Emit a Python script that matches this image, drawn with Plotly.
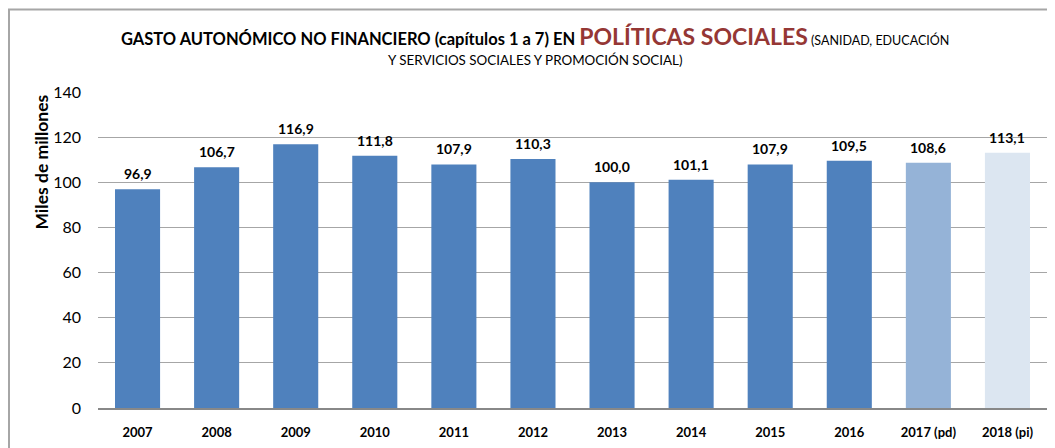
import plotly.graph_objects as go

categories = ["2007", "2008", "2009", "2010", "2011", "2012", "2013", "2014",
              "2015", "2016", "2017 (pd)", "2018 (pi)"]
values = [96.9, 106.7, 116.9, 111.8, 107.9, 110.3, 100.0, 101.1, 107.9, 109.5, 108.6, 113.1]
bar_colors = ["#4F81BD"] * 10 + ["#95B3D7", "#DCE6F1"]
y_ticks = [0, 20, 40, 60, 80, 100, 120, 140]

FONT = "Lato"
positions = list(range(len(categories)))

# figure geometry (page body adds an 8px offset)
W, H = 1047, 440
ML, MR, MT, MB = 90, 8, 84, 38
PW, PH = W - ML - MR, H - MT - MB
OFF = 8


def px_x(p):
    return (p - OFF - ML) / PW


def px_y(p):
    return (H - MB - (p - OFF)) / PH


fig = go.Figure()
fig.add_trace(go.Bar(
    x=positions, y=values,
    marker=dict(color=bar_colors, line=dict(width=0)),
    width=0.57,
    hovertext=categories, hoverinfo="text+y",
))

# data labels
for p, v in zip(positions, values):
    fig.add_annotation(
        x=p, y=v, xref="x", yref="y",
        text=f"{v:.1f}".replace(".", ","),
        showarrow=False, yanchor="bottom", yshift=5,
        font=dict(family=FONT, size=14, color="#000000", weight="bold"),
    )

# title
fig.add_annotation(
    xref="paper", yref="paper", x=px_x(535), y=px_y(36), xanchor="center", yanchor="middle",
    showarrow=False,
    text=("<b>GASTO AUTONÓMICO NO FINANCIERO (capítulos 1 a 7) EN </b>"
          "<span style='font-size:23px;color:#953735'><b>POLÍTICAS SOCIALES</b></span>"
          "<span style='font-size:12.5px'> (SANIDAD, EDUCACIÓN</span>"),
    font=dict(family=FONT, size=16.5, color="#000000"),
)
fig.add_annotation(
    xref="paper", yref="paper", x=px_x(535), y=px_y(60), xanchor="center", yanchor="middle",
    showarrow=False,
    text="Y SERVICIOS SOCIALES Y PROMOCIÓN SOCIAL)",
    font=dict(family=FONT, size=13.4, color="#000000"),
)

# y axis title
fig.add_annotation(
    xref="paper", yref="paper", x=px_x(42), y=px_y(163), xanchor="center", yanchor="middle",
    showarrow=False, textangle=-90,
    text="<b>Miles de millones</b>",
    font=dict(family=FONT, size=17.5, color="#000000"),
)

# chart border
fig.add_shape(type="rect", xref="paper", yref="paper",
              x0=px_x(OFF + 1), x1=px_x(W + 40), y0=px_y(H + 40), y1=px_y(OFF + 1),
              line=dict(color="#A6A6A6", width=2), fillcolor="rgba(0,0,0,0)", layer="below")

fig.update_layout(
    width=W, height=H,
    margin=dict(l=ML, r=MR, t=MT, b=MB),
    paper_bgcolor="white", plot_bgcolor="white",
    showlegend=False,
    font=dict(family=FONT, color="#000000"),
    xaxis=dict(
        range=[-0.5, len(categories) - 0.5],
        tickvals=positions, ticktext=categories,
        showgrid=False, showline=True, linecolor="#888888", linewidth=1.5,
        zeroline=False,
        ticks="", ticklabelstandoff=12,
        tickfont=dict(family=FONT, size=13, color="#000000", weight="bold"),
    ),
    yaxis=dict(
        range=[0, 140], tickvals=y_ticks,
        showgrid=True, gridcolor="#A6A6A6", gridwidth=1.2,
        zeroline=False, showline=False,
        ticks="", ticklabelstandoff=16,
        tickfont=dict(family=FONT, size=16, color="#000000"),
    ),
)

fig.write_html("out.html")
